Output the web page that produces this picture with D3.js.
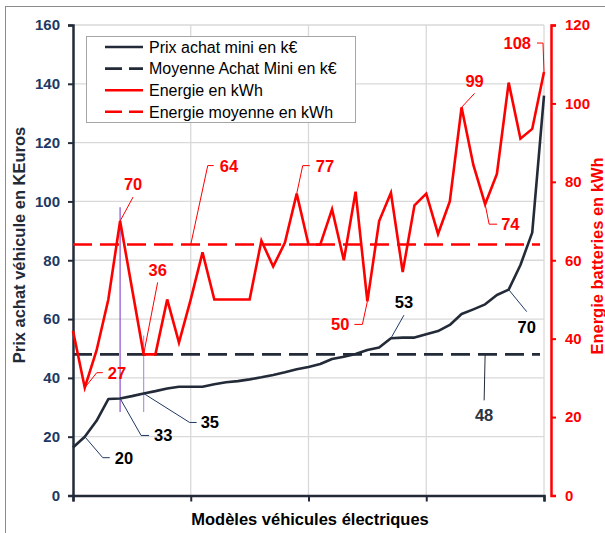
<!DOCTYPE html>
<html>
<head>
<meta charset="utf-8">
<script src="https://cdn.jsdelivr.net/npm/d3@7"></script>
<style>
  body { margin: 0; background: #fff; }
  svg { display: block; font-family: "Liberation Sans", Arial, sans-serif; }
</style>
</head>
<body>
<svg id="chart" width="605" height="533"></svg>
<script>
// Values (41 models, sorted by price)
const prixMini = [16.3, 20, 25.4, 32.8, 33, 33.8, 34.7, 35.5, 36.4, 37, 37, 37, 37.8, 38.5, 38.9, 39.5,
  40.2, 41, 41.9, 42.9, 43.7, 44.7, 46.4, 47.2, 48.1, 49.5, 50.3, 53.5, 53.7, 53.7, 54.8, 55.9, 58,
  61.7, 63.3, 65, 68.2, 70, 78.4, 89.4, 136];
const energie = [42, 27.5, 37, 50, 70, 53, 36, 36, 50, 39, 50, 62, 50, 50, 50, 50,
  65, 58.4, 64.5, 77, 64, 64, 73, 60, 77.5, 49.5, 70, 77.2, 57, 74, 77, 66.7, 75,
  99, 84.3, 74.3, 82, 105.3, 91, 93.5, 108];
const prixMoyen = 48;
const energieMoyenne = 64;

const leftTicks = [0, 20, 40, 60, 80, 100, 120, 140, 160];
const rightTicks = [0, 20, 40, 60, 80, 100, 120];
const xTicks = [0, 10, 20, 30, 40];

const legendLabels = ["Prix achat mini en k€", "Moyenne Achat Mini en k€", "Energie en kWh", "Energie moyenne en kWh"];

// labels on the price curve: index, value shown
const prixNotes = [
  { i: 1, text: "20" }, { i: 4, text: "33" }, { i: 6, text: "35" },
  { i: 27, text: "53" }, { i: 37, text: "70" }
];
const energieNotes = [
  { i: 1, text: "27" }, { i: 4, text: "70" }, { i: 6, text: "36" },
  { i: 19, text: "77" }, { i: 25, text: "50" }, { i: 33, text: "99" },
  { i: 35, text: "74" }, { i: 40, text: "108" }
];

// leader line layout (offsets from the point) - picked to look like the original
const noteLayout = {
  "p1": { pts: [[18, 21], [25, 21]], tx: 30, ty: 21, anchor: "start" },
  "p4": { pts: [[21, 37], [29, 37]], tx: 34, ty: 37, anchor: "start" },
  "p6": { pts: [[46, 29], [53, 29]], tx: 57, ty: 29, anchor: "start" },
  "p27": { pts: [[13, -23]], tx: 13, ty: -36, anchor: "middle" },
  "p37": { pts: [[18, 22]], tx: 18, ty: 37, anchor: "middle" },
  "e1": { pts: [[12, -15], [18, -15]], tx: 23, ty: -15, anchor: "start" },
  "e4": { pts: [[13, -24]], tx: 13, ty: -37, anchor: "middle" },
  "e6": { pts: [[14, -72]], tx: 14, ty: -84, anchor: "middle" },
  "e19": { pts: [[6, -28], [13, -28]], tx: 19, ty: -28, anchor: "start" },
  "e25": { pts: [[-5, 23], [-13, 23]], tx: -18, ty: 23, anchor: "end" },
  "e33": { pts: [[13, -14]], tx: 13, ty: -26, anchor: "middle" },
  "e35": { pts: [[4, 20], [12, 20]], tx: 16, ty: 20, anchor: "start" },
  "e40": { pts: [[-1, -29], [-7, -29]], tx: -13, ty: -29, anchor: "end" }
};

const svg = d3.select("#chart");

const x = d3.scaleLinear().domain([0, 40]).range([73, 544]);
const yL = d3.scaleLinear().domain([0, 160]).range([495.5, 25]);
const yR = d3.scaleLinear().domain([0, 120]).range([495.5, 25]);

const dark = "#232b38";
const red = "#ff0000";
const grid = "#d9d9d9";

// outer frame
svg.append("rect")
  .attr("x", 5.5).attr("y", 6.5).attr("width", 610).attr("height", 540)
  .attr("fill", "none").attr("stroke", "#8c8c8c");

// gridlines
svg.append("g").selectAll("line").data(leftTicks.slice(1)).join("line")
  .attr("x1", x(0)).attr("x2", x(40))
  .attr("y1", d => yL(d)).attr("y2", d => yL(d))
  .attr("stroke", grid).attr("stroke-width", 1.3);
svg.append("g").selectAll("line").data(xTicks.slice(1)).join("line")
  .attr("x1", d => x(d)).attr("x2", d => x(d))
  .attr("y1", yL(0)).attr("y2", yL(160))
  .attr("stroke", grid).attr("stroke-width", 1.3);

// left axis
const leftAxis = svg.append("g")
  .attr("transform", `translate(${x(0)},0)`)
  .call(d3.axisLeft(yL).tickValues(leftTicks).tickSize(5).tickPadding(8));
leftAxis.select(".domain").attr("stroke", dark).attr("stroke-width", 2.5);
leftAxis.selectAll(".tick line").attr("stroke", dark).attr("stroke-width", 2);
leftAxis.selectAll("text").attr("fill", "#203864").attr("font-size", 15).attr("font-weight", "bold")
  .attr("font-family", "Liberation Sans, Arial, sans-serif");

// right axis
const rightAxis = svg.append("g")
  .attr("transform", "translate(551,0)")
  .call(d3.axisRight(yR).tickValues(rightTicks).tickSize(5).tickPadding(9));
rightAxis.select(".domain").attr("stroke", red).attr("stroke-width", 2.5);
rightAxis.selectAll(".tick line").attr("stroke", red).attr("stroke-width", 2);
rightAxis.selectAll("text").attr("fill", red).attr("font-size", 15).attr("font-weight", "bold")
  .attr("font-family", "Liberation Sans, Arial, sans-serif");

// bottom axis
const bottomAxis = svg.append("g")
  .attr("transform", `translate(0,${yL(0)})`)
  .call(d3.axisBottom(x).tickValues(xTicks).tickSize(6).tickFormat(""));
bottomAxis.select(".domain").attr("stroke", dark).attr("stroke-width", 2.5);
bottomAxis.selectAll(".tick line").attr("stroke", dark).attr("stroke-width", 2);

// axis titles
svg.append("text")
  .attr("transform", "translate(25,245) rotate(-90)")
  .attr("text-anchor", "middle").attr("font-size", 16.5).attr("font-weight", "bold")
  .attr("fill", dark).text("Prix achat véhicule en KEuros");
svg.append("text")
  .attr("transform", "translate(603,256) rotate(-90)")
  .attr("text-anchor", "middle").attr("font-size", 16.5).attr("font-weight", "bold")
  .attr("fill", red).text("Energie batteries en kWh");
svg.append("text")
  .attr("x", 310).attr("y", 525)
  .attr("text-anchor", "middle").attr("font-size", 16.5).attr("font-weight", "bold")
  .attr("fill", "#000").text("Modèles véhicules électriques");

// purple drop lines
const dropLines = [
  { i: 4, top: 73.5, bottom: 28.4, color: "#8a4fd0" },
  { i: 6, top: 40.8, bottom: 28.4, color: "#b592e6" }
];
svg.append("g").selectAll("line").data(dropLines).join("line")
  .attr("x1", d => x(d.i)).attr("x2", d => x(d.i))
  .attr("y1", d => yR(d.top)).attr("y2", d => yL(d.bottom))
  .attr("stroke", d => d.color).attr("stroke-width", 1.2);

// series
const lineP = d3.line().x((d, i) => x(i)).y(d => yL(d));
const lineE = d3.line().x((d, i) => x(i)).y(d => yR(d));

svg.append("path").datum(prixMini)
  .attr("d", lineP).attr("fill", "none").attr("stroke", dark).attr("stroke-width", 2.6)
  .attr("stroke-linejoin", "round");
svg.append("line")
  .attr("x1", x(0)).attr("x2", x(40) - 4)
  .attr("y1", yL(prixMoyen)).attr("y2", yL(prixMoyen))
  .attr("stroke", dark).attr("stroke-width", 2.6).attr("stroke-dasharray", "19,8");
svg.append("path").datum(energie)
  .attr("d", lineE).attr("fill", "none").attr("stroke", red).attr("stroke-width", 2.6)
  .attr("stroke-linejoin", "miter");
svg.append("line")
  .attr("x1", x(0)).attr("x2", x(40) - 4)
  .attr("y1", yR(energieMoyenne)).attr("y2", yR(energieMoyenne))
  .attr("stroke", red).attr("stroke-width", 2.6).attr("stroke-dasharray", "19,8");

// data labels with leader lines
function drawNote(px, py, lay, text, lineColor, textColor) {
  const pts = [[px, py]].concat(lay.pts.map(p => [px + p[0], py + p[1]]));
  svg.append("path")
    .attr("d", d3.line()(pts))
    .attr("fill", "none").attr("stroke", lineColor).attr("stroke-width", 1);
  svg.append("text")
    .attr("x", px + lay.tx).attr("y", py + lay.ty).attr("dy", "0.36em")
    .attr("text-anchor", lay.anchor)
    .attr("font-size", 16.5).attr("font-weight", "bold")
    .attr("fill", textColor).text(text);
}

prixNotes.forEach(n => drawNote(x(n.i), yL(prixMini[n.i]), noteLayout["p" + n.i], n.text, "#1f3864", "#000"));
energieNotes.forEach(n => drawNote(x(n.i), yR(energie[n.i]), noteLayout["e" + n.i], n.text, red, red));

// labels for the two averages
drawNote(x(10), yR(energieMoyenne), { pts: [[17, -79], [23, -79]], tx: 29, ty: -79, anchor: "start" },
  String(energieMoyenne), red, red);
drawNote(x(35), yL(prixMoyen), { pts: [[-1, 46]], tx: -1, ty: 61, anchor: "middle" },
  String(prixMoyen), dark, "#2b3341");

// legend
const legend = svg.append("g");
legend.append("rect")
  .attr("x", 86.5).attr("y", 36.5).attr("width", 269).attr("height", 86)
  .attr("fill", "#fff").attr("stroke", "#a6a6a6");
const legendStyle = [
  { color: dark, dash: null },
  { color: dark, dash: "17,7" },
  { color: red, dash: null },
  { color: red, dash: "17,7" }
];
const rows = legend.selectAll("g").data(legendLabels).join("g")
  .attr("transform", (d, i) => `translate(0,${47 + i * 21.6})`);
rows.append("line")
  .attr("x1", 105).attr("x2", 143).attr("y1", 0).attr("y2", 0)
  .attr("stroke", (d, i) => legendStyle[i].color).attr("stroke-width", 2.6)
  .attr("stroke-dasharray", (d, i) => legendStyle[i].dash);
rows.append("text")
  .attr("x", 149).attr("y", 0).attr("dy", "0.36em")
  .attr("font-size", 16).attr("fill", "#000")
  .text(d => d);
</script>
</body>
</html>
